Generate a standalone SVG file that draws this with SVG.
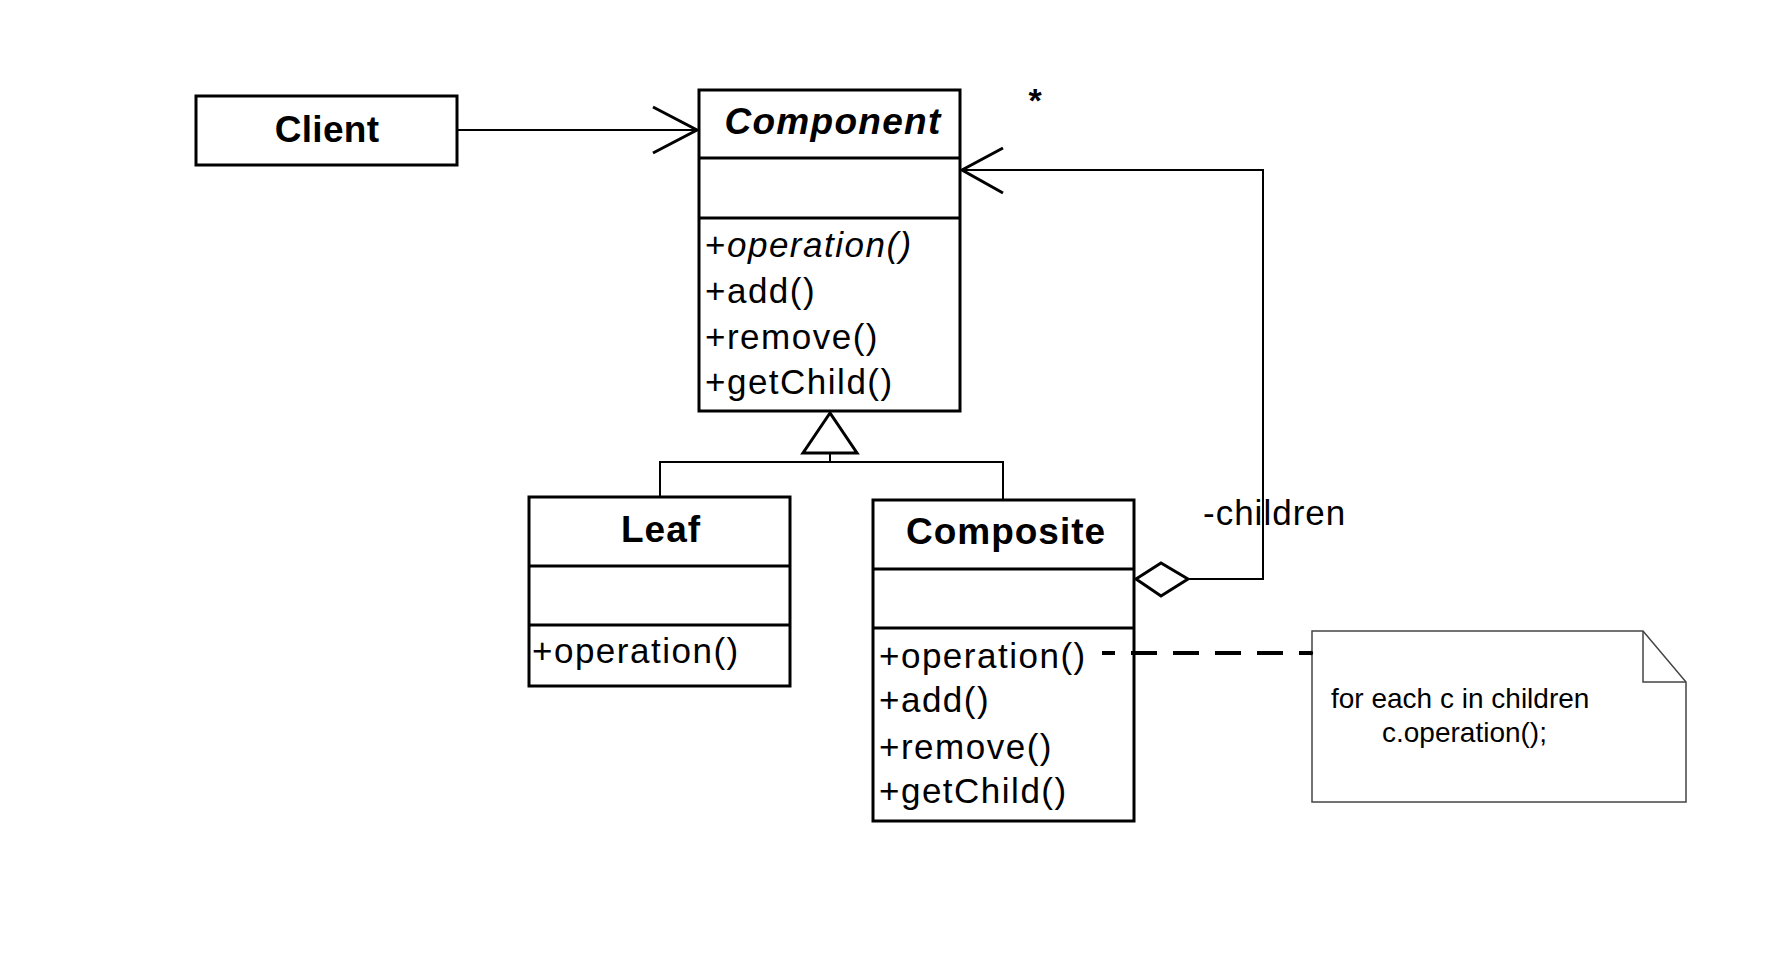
<svg xmlns="http://www.w3.org/2000/svg" width="1770" height="954" viewBox="0 0 1770 954">
<style>
.box{fill:#fff;stroke:#000;stroke-width:3}
.div{stroke:#000;stroke-width:3}
.title{font-family:"Liberation Sans",Arial,sans-serif;font-size:37px;font-weight:bold;text-anchor:middle;fill:#000;letter-spacing:1px}
.m{font-family:"Liberation Sans",Arial,sans-serif;font-size:35px;fill:#000;letter-spacing:1.5px}
.lbl{font-family:"Liberation Sans",Arial,sans-serif;font-size:35px;fill:#000;letter-spacing:1px}
.note{font-family:"Liberation Sans",Arial,sans-serif;font-size:28px;fill:#000}
.conn{fill:none;stroke:#000;stroke-width:2}
.head{fill:none;stroke:#000;stroke-width:3}
</style>
<rect width="1770" height="954" fill="#fff"/>

<g id="client">
  <rect class="box" x="196" y="96" width="261" height="69"/>
  <text class="title" x="327" y="142" style="letter-spacing:0.3px">Client</text>
</g>

<g id="component">
  <rect class="box" x="699" y="90" width="261" height="321"/>
  <line class="div" x1="699" y1="158" x2="960" y2="158"/>
  <line class="div" x1="699" y1="218" x2="960" y2="218"/>
  <text class="title" x="833" y="134" font-style="italic" style="letter-spacing:1.3px">Component</text>
  <text class="m" x="705" y="257">+<tspan font-style="italic">operation()</tspan></text>
  <text class="m" x="705" y="303">+add()</text>
  <text class="m" x="705" y="349">+remove()</text>
  <text class="m" x="705" y="394">+getChild()</text>
</g>

<g id="leaf">
  <rect class="box" x="529" y="497" width="261" height="189"/>
  <line class="div" x1="529" y1="566" x2="790" y2="566"/>
  <line class="div" x1="529" y1="625" x2="790" y2="625"/>
  <text class="title" x="661" y="542">Leaf</text>
  <text class="m" x="532" y="663">+operation()</text>
</g>

<g id="composite">
  <rect class="box" x="873" y="500" width="261" height="321"/>
  <line class="div" x1="873" y1="569" x2="1134" y2="569"/>
  <line class="div" x1="873" y1="628" x2="1134" y2="628"/>
  <text class="title" x="1006" y="544">Composite</text>
  <text class="m" x="879" y="668">+operation()</text>
  <text class="m" x="879" y="712">+add()</text>
  <text class="m" x="879" y="759">+remove()</text>
  <text class="m" x="879" y="803">+getChild()</text>
</g>

<g id="note">
  <polygon points="1312,631 1643,631 1686,682 1686,802 1312,802" fill="#fff" stroke="#444" stroke-width="1.5"/>
  <polyline points="1643,631 1643,682 1686,682" fill="none" stroke="#444" stroke-width="1.5"/>
  <text class="note" x="1331" y="708">for each c in children</text>
  <text class="note" x="1382" y="742">c.operation();</text>
</g>

<g id="connectors">
  <!-- Client -> Component -->
  <line class="conn" x1="457" y1="130" x2="697" y2="130"/>
  <polyline class="head" points="653,107 697,130 653,153"/>
  <!-- generalization -->
  <polyline class="conn" points="660,496 660,462 1003,462 1003,499"/>
  <line class="conn" x1="830" y1="453" x2="830" y2="462"/>
  <polygon class="head" points="830,413 803,453 857,453" fill="#fff"/>
  <!-- aggregation -->
  <polyline class="conn" points="1188,579 1263,579 1263,170 962,170"/>
  <polyline class="head" points="1003,148 962,170 1003,193"/>
  <polygon class="head" points="1136,579 1161,563 1188,579 1161,596" fill="#fff"/>
  <!-- note link -->
  <line x1="1102" y1="653" x2="1311" y2="653" stroke="#000" stroke-width="4" stroke-dasharray="26,16" stroke-dashoffset="13"/>
  <circle cx="1311" cy="653" r="2.2" fill="#000"/>
  <text class="lbl" x="1203" y="525">-children</text>
  <text x="1035" y="112" font-family="Liberation Sans,Arial,sans-serif" font-size="34" font-weight="bold" text-anchor="middle">*</text>
</g>
</svg>
